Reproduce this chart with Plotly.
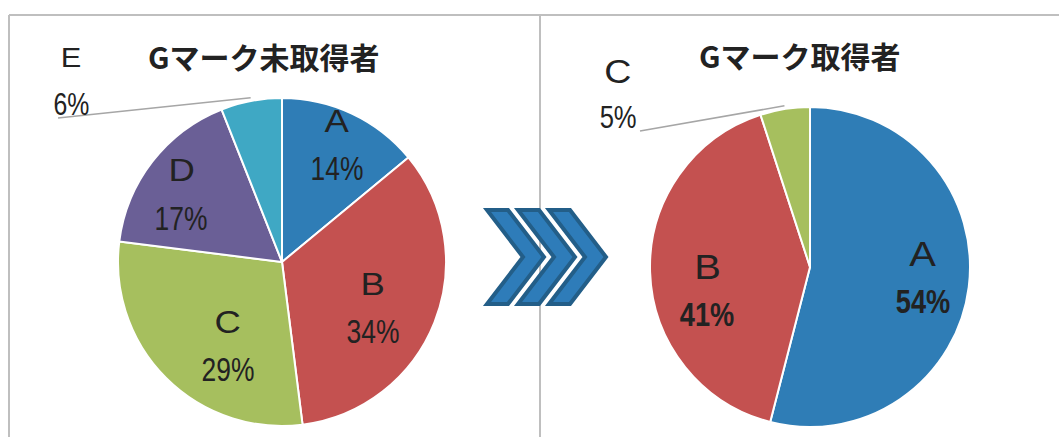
import math
import plotly.graph_objects as go

# Canvas size in pixels
W, H = 1059, 437

# ---- data -------------------------------------------------------------
left_title = "Gマーク未取得者"
left_labels = ["A", "B", "C", "D", "E"]
left_values = [14, 34, 29, 17, 6]

right_title = "Gマーク取得者"
right_labels = ["A", "B", "C"]
right_values = [54, 41, 5]

# ---- styling ----------------------------------------------------------
slice_colors = {
    "A": "#2F7DB6",
    "B": "#C45150",
    "C": "#A6BF5E",
    "D": "#6A5F96",
    "E": "#3FA8C4",
}
TEXT = "#222222"
FRAME = "#BFBFBF"
LABEL_FONT = "Liberation Sans, Arial, sans-serif"
CJK_FONT = "Noto Sans CJK JP, sans-serif"
# horizontal scaling applied to the label text (condensed numbers, wide letters)
NUM_SCALE = 0.80
LETTER_SCALE = 1.14

# pie geometry (pixel centre and radius)
left_geo = dict(cx=282, cy=262, r=164)
right_geo = dict(cx=810, cy=267, r=160)

# label placement: inside labels use (radius fraction, angle nudge in deg);
# outside labels use a pixel offset from the centre plus a leader start point
left_place = {
    "A": ("in", 0.79, 0),
    "B": ("in", 0.62, 5),
    "C": ("in", 0.61, -12),
    "D": ("in", 0.74, -4),
    "E": ("out", (-211, -181), (-224, -144)),
}
right_place = {
    "A": ("in", 0.71, -2),
    "B": ("in", 0.66, -11),
    "C": ("out", (-192, -173), (-170, -136)),
}


def px(x):
    return x / W


def py(y):
    return 1 - y / H


def mid_angle(values, i):
    total = sum(values)
    before = sum(values[:i])
    return (before + values[i] / 2) / total * 360.0


def pie_trace(labels, values, geo):
    cx, cy, r = geo["cx"], geo["cy"], geo["r"]
    return go.Pie(
        labels=labels,
        values=values,
        sort=False,
        direction="clockwise",
        rotation=0,
        textinfo="none",
        hoverinfo="label+percent",
        marker=dict(colors=[slice_colors[l] for l in labels],
                    line=dict(color="white", width=2)),
        domain=dict(x=[px(cx - r), px(cx + r)], y=[py(cy + r), py(cy - r)]),
        showlegend=False,
    )


annotations = []
shapes = []


def text_ann(x, y, text, size, scale):
    return dict(x=px(x), y=py(y), xref="paper", yref="paper", text=text,
                showarrow=False, xanchor="center", yanchor="middle",
                name=f"sx:{scale}",
                font=dict(family=LABEL_FONT, size=size, color=TEXT))


def add_labels(labels, values, geo, place, bold_pct, letter_size, pct_size,
               out_letter_size, out_pct_size):
    cx, cy, r = geo["cx"], geo["cy"], geo["r"]
    total = sum(values)
    for i, lab in enumerate(labels):
        pct = f"{round(values[i] / total * 100)}%"
        ang = mid_angle(values, i)
        spec = place[lab]
        if spec[0] == "in":
            _, frac, nudge = spec
            a = math.radians(ang + nudge)
            mx = cx + frac * r * math.sin(a)
            my = cy - frac * r * math.cos(a)
            ls, ps, gap = letter_size, pct_size, 24
            pct_txt = f"<b>{pct}</b>" if bold_pct else pct
        else:
            _, (ox, oy), (lx, ly) = spec
            mx, my = cx + ox, cy + oy
            ls, ps, gap = out_letter_size, out_pct_size, 23
            a = math.radians(ang)
            ex = cx + 1.02 * r * math.sin(a)
            ey = cy - 1.02 * r * math.cos(a)
            shapes.append(dict(type="line", xref="paper", yref="paper",
                               x0=px(cx + lx), y0=py(cy + ly),
                               x1=px(ex), y1=py(ey),
                               line=dict(color="#A6A6A6", width=1.5)))
            pct_txt = pct
        annotations.append(text_ann(mx, my - gap, lab, ls, LETTER_SCALE))
        annotations.append(text_ann(mx, my + gap, pct_txt, ps, NUM_SCALE))


add_labels(left_labels, left_values, left_geo, left_place, False, 32, 33, 27, 31)
add_labels(right_labels, right_values, right_geo, right_place, True, 35, 34, 33, 32)

# chart titles
annotations.append(dict(x=px(264), y=py(56), xref="paper", yref="paper",
                        text=f"<b>{left_title}</b>", showarrow=False,
                        xanchor="center", yanchor="middle",
                        font=dict(family=CJK_FONT, size=30, color=TEXT)))
annotations.append(dict(x=px(800), y=py(55), xref="paper", yref="paper",
                        text=f"<b>{right_title}</b>", showarrow=False,
                        xanchor="center", yanchor="middle",
                        font=dict(family=CJK_FONT, size=30, color=TEXT)))

# frame lines
frame_segments = [((9, 15), (W, 15)), ((9, 15), (9, H)), ((540, 15), (540, H))]
for (x0, y0), (x1, y1) in frame_segments:
    shapes.append(dict(type="line", xref="paper", yref="paper",
                       x0=px(x0), y0=py(y0), x1=px(x1), y1=py(y1),
                       line=dict(color=FRAME, width=2), layer="below"))


# three chevron arrows between the pies
def chevron(x0, top=210, bottom=304, arm=21, depth=57):
    mid = (top + bottom) / 2
    pts = [(x0, top), (x0 + arm, top), (x0 + depth, mid),
           (x0 + arm, bottom), (x0, bottom), (x0 + depth - arm, mid)]
    d = "M " + " L ".join(f"{px(x):.5f},{py(y):.5f}" for x, y in pts) + " Z"
    return dict(type="path", xref="paper", yref="paper", path=d,
                fillcolor="#2E7CB9", line=dict(color="#235E88", width=4),
                layer="above")


for start in (487, 518, 549):
    shapes.append(chevron(start))

fig = go.Figure([pie_trace(left_labels, left_values, left_geo),
                 pie_trace(right_labels, right_values, right_geo)])
fig.update_layout(
    width=W, height=H,
    margin=dict(l=0, r=0, t=0, b=0),
    paper_bgcolor="white",
    plot_bgcolor="white",
    annotations=annotations,
    shapes=shapes,
)

# stretch/squeeze each label horizontally about its own centre
scale_js = """
var gd = document.getElementById('{plot_id}');
function rescale() {
  var anns = gd.layout.annotations || [];
  gd.querySelectorAll('g.annotation').forEach(function (g) {
    var idx = +g.getAttribute('data-index');
    var a = anns[idx];
    if (!a || !a.name || a.name.indexOf('sx:') !== 0) return;
    var s = parseFloat(a.name.slice(3));
    var t = g.querySelector('text.annotation-text');
    if (!t) return;
    t.removeAttribute('transform');
    var b = t.getBBox();
    var c = b.x + b.width / 2;
    t.setAttribute('transform',
      'translate(' + c + ',0) scale(' + s + ',1) translate(' + (-c) + ',0)');
  });
}
rescale();
gd.on('plotly_afterplot', rescale);
"""

fig.write_html("out.html", config={"displayModeBar": False},
               post_script=scale_js)
